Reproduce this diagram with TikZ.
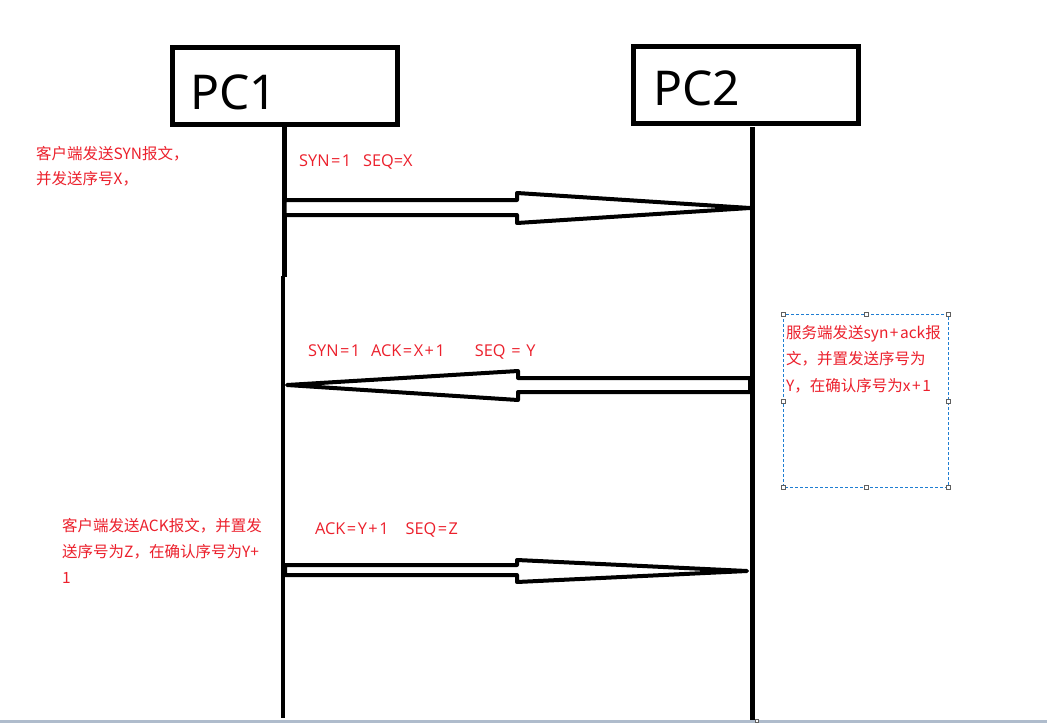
\documentclass[tikz,border=0pt]{standalone}
\usepackage{fontspec}
\newfontfamily\cjk{Noto Sans CJK SC}
\newfontfamily\pcfont{Noto Sans}
\newfontfamily\latfont{Open Sans}
\definecolor{labred}{RGB}{236,32,44}
\definecolor{selblue}{RGB}{30,125,210}
\definecolor{handlegray}{RGB}{95,95,95}
\definecolor{barblue}{RGB}{175,188,204}
\newcommand{\peq}{\hspace{1.5pt}=\hspace{1.5pt}}
\newcommand{\pplus}{\hspace{1.5pt}+\hspace{1.5pt}}
\begin{document}
\begin{tikzpicture}[x=1pt,y=-1pt,
  pcbox/.style={draw=black,line width=5pt,minimum width=225pt,minimum height=77pt,inner sep=0pt,fill=white},
  pclabel/.style={anchor=base west,inner sep=0pt,font=\pcfont\fontsize{48}{50}\selectfont},
  lifeline/.style={line width=4.5pt,black},
  msgarrow/.style={draw=black,line width=4pt,line join=round,fill=white},
  redtext/.style={anchor=base west,inner sep=0pt,text=labred,font=\cjk\fontsize{15.5}{25}\selectfont},
  msgtext/.style={anchor=base west,inner sep=0pt,text=labred,font=\latfont\fontsize{16.3}{20}\selectfont},
  selbox/.style={draw=selblue,line width=1pt,dash pattern=on 3pt off 2pt},
  handle/.style={draw=handlegray,fill=white,line width=1pt,minimum size=4pt,inner sep=0pt}
]
\useasboundingbox (0,0) rectangle (1047,723);
\fill[white] (0,0) rectangle (1047,723);

% lifelines
\coordinate (l1top) at (284.5,127);
\coordinate (l1mid) at (284.5,276.5);
\coordinate (l1mid2) at (283,276);
\coordinate (l1bot) at (283,718);
\coordinate (l2top) at (752.5,127);
\coordinate (l2bot) at (752.5,720);
\draw[lifeline] (l1top) -- (l1mid);
\draw[lifeline] (l1mid2) -- (l1bot);
\draw[lifeline] (l2top) -- (l2bot);

% boxes
\node[pcbox] (pc1) at (285,86) {};
\node[pcbox] (pc2) at (746,85) {};
\node[pclabel] (pc1t) at (190,109) {PC1};
\node[pclabel] (pc2t) at (653,105) {PC2};

% message 1
\draw[msgarrow] (284.5,200) -- (517,200) -- (517,193) -- (750,208) -- (517,223) -- (517,215) -- (284.5,215) -- cycle;
% message 2
\draw[msgarrow] (287,385) -- (518,371) -- (518,378) -- (750,378) -- (750,392) -- (518,392) -- (518,400) -- cycle;
% message 3
\draw[msgarrow] (285,565) -- (517,565) -- (517,560) -- (747,571) -- (517,582) -- (517,575) -- (285,575) -- cycle;

% labels
\node[redtext] (c1) at (36,159) {\parbox[t]{200pt}{客户端发送SYN报文，\\并发送序号X，}};
\node[msgtext] (m1) at (299,166) {SYN\peq 1\hspace{12pt}SEQ=X};
\node[msgtext] (m2) at (308,356) {SYN\peq 1\hspace{11pt}ACK\peq X\pplus 1\hspace{30pt}SEQ\hspace{1.5pt} = \hspace{1.5pt}Y};
\node[msgtext] (m3) at (315,534) {ACK\peq Y\pplus 1\hspace{17pt}SEQ\peq Z};
\node[redtext] (c3) at (62,531) {\parbox[t]{230pt}{\baselineskip=26pt 客户端发送ACK报文，并置发\\送序号为Z，在确认序号为Y+\\1}};

% selected text box
\draw[selbox] (783,314) rectangle (948,487);
\node[redtext] (s1) at (786,338) {\parbox[t]{170pt}{\baselineskip=26.5pt 服务端发送syn{\hspace{1.5pt}+\hspace{1.5pt}}ack报\\文，并置发送序号为\\Y，在确认序号为x{\hspace{1.5pt}+\hspace{1.5pt}}1}};
\foreach \hx/\hy [count=\i] in {783/314,866/314,948/314,783/401,948/401,783/487,866/487,948/487}
  \node[handle] (h\i) at (\hx,\hy) {};

% bottom bar
\fill[barblue] (0,719.5) rectangle (1047,723);
\node[handle,minimum size=3pt] (hb) at (757,721) {};
\end{tikzpicture}
\end{document}
